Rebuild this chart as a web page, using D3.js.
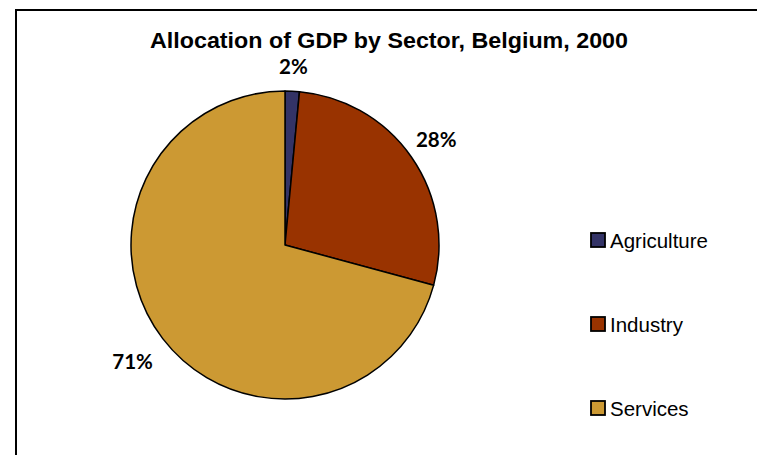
<!DOCTYPE html>
<html><head><meta charset="utf-8">
<script src="https://cdn.jsdelivr.net/npm/d3@7"></script>
<style>body{margin:0;background:#fff}svg{display:block}</style>
</head><body>
<svg id="c" width="757" height="455"></svg>
<script>
const categories = ["Agriculture", "Industry", "Services"];
const values = [1.5, 27.7, 70.8];
const colors = ["#333366", "#993300", "#CC9933"];
const title = "Allocation of GDP by Sector, Belgium, 2000";

const svg = d3.select("#c");
// chart border
svg.append("path").attr("d", "M16,455 L16,10 L757,10").attr("fill", "none").attr("stroke", "#000").attr("stroke-width", 2);

svg.append("text").attr("x", 389).attr("y", 48).attr("text-anchor", "middle")
  .attr("font-family", "Liberation Sans, Arial, sans-serif").attr("font-weight", "bold").attr("font-size", 22.5)
  .attr("textLength", 478).attr("lengthAdjust", "spacingAndGlyphs")
  .text(title);

const cx = 285, cy = 245, r = 154;
const total = d3.sum(values);
const pie = d3.pie().sort(null).value(d => d.v);
const data = pie(categories.map((c, i) => ({c, v: values[i], col: colors[i]})));
const arc = d3.arc().innerRadius(0).outerRadius(r);
const g = svg.append("g").attr("transform", `translate(${cx},${cy})`);
g.selectAll("path").data(data).join("path").attr("d", arc)
  .attr("fill", d => d.data.col).attr("stroke", "#000").attr("stroke-width", 1.5).attr("stroke-linejoin", "round");

const labelRadius = [r + 24, r + 30, r + 38];
g.selectAll("text.lbl").data(data).join("text").attr("class", "lbl")
  .each(function(d, i) {
    const a = (d.startAngle + d.endAngle) / 2;
    const lr = labelRadius[i];
    d3.select(this).attr("x", Math.sin(a) * lr).attr("y", -Math.cos(a) * lr + 7);
  })
  .attr("text-anchor", "middle").attr("font-family", "Lato, 'Open Sans', sans-serif").attr("font-weight", "bold").attr("font-size", 20.5)
  .text(d => Math.round(d.data.v / total * 100) + "%");

const legY = d3.scalePoint().domain(categories).range([240, 408]);
const leg = svg.append("g");
categories.forEach((c, i) => {
  const y = legY(c);
  leg.append("rect").attr("x", 591).attr("y", y - 7).attr("width", 14).attr("height", 14)
    .attr("fill", colors[i]).attr("stroke", "#000").attr("stroke-width", 1.8);
  leg.append("text").attr("x", 610).attr("y", y + 8).attr("font-family", "Liberation Sans, Arial, sans-serif")
    .attr("font-size", 20.5).text(c);
});
</script>
</body></html>
